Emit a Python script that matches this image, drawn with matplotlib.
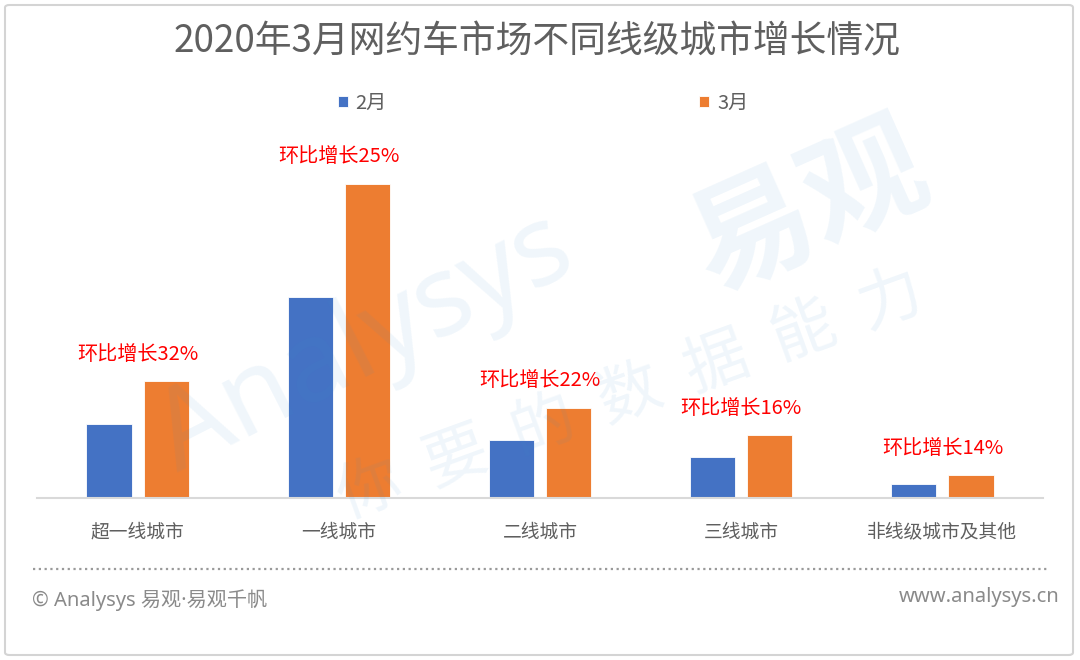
import numpy as np
import matplotlib
matplotlib.use('Agg')
import matplotlib.pyplot as plt
from matplotlib.patches import FancyBboxPatch
from matplotlib.lines import Line2D

plt.rcParams['font.family'] = ['Noto Sans CJK SC', 'DejaVu Sans']

# data (arbitrary units)
categories = ['超一线城市', '一线城市', '二线城市', '三线城市', '非线级城市及其他']
feb = [74, 201, 58, 41, 14]
mar = [117, 314, 90, 63, 23]
growth_labels = ['环比增长32%', '环比增长25%', '环比增长22%', '环比增长16%', '环比增长14%']
series_names = ['2月', '3月']

BLUE = '#4472C4'
ORANGE = '#ED7D31'
GRAY = '#5f5f5f'
LATIN_CJK = ['Noto Sans', 'Noto Sans CJK SC', 'DejaVu Sans']

W, H = 1080, 660
fig = plt.figure(figsize=(W / 100, H / 100), dpi=100)

# light frame round the whole card
frame = FancyBboxPatch((5 / W, 5 / H), 1068 / W, 650 / H,
                       boxstyle='round,pad=0,rounding_size=0.004',
                       transform=fig.transFigure, facecolor='white',
                       edgecolor='#d4d4d4', linewidth=1.5, zorder=0)
fig.add_artist(frame)

ax = fig.add_axes([37 / W, 1 - 498 / H, 1006 / W, 368 / H])
ax.set_facecolor('none')

x = np.arange(len(categories))
bw = 0.224
off = 0.142
b1 = ax.bar(x - off, feb, bw, color=BLUE, edgecolor='white', linewidth=0.6, label=series_names[0], zorder=2)
b2 = ax.bar(x + off, mar, bw, color=ORANGE, edgecolor='white', linewidth=0.6, label=series_names[1], zorder=2)

for xi, v, txt in zip(x, mar, growth_labels):
    ax.text(xi, v + 27, txt, ha='center', va='center', color='#FF0000', fontsize=14.5, zorder=4)

ax.set_xlim(-0.5, len(categories) - 0.5)
ax.set_ylim(0, 368)
ax.set_xticks(x)
ax.set_xticklabels(categories, fontsize=13.5, color=GRAY)
ax.tick_params(axis='x', length=0, pad=17)
ax.set_yticks([])
for s in ['left', 'right', 'top']:
    ax.spines[s].set_visible(False)
ax.spines['bottom'].set_color('#d9d9d9')
ax.spines['bottom'].set_linewidth(1.5)

# watermark
fig.text(365 / W, 1 - 345 / H, 'Analysys', fontsize=80, color='#3d8fd1', alpha=0.08,
         rotation=27, ha='center', va='center', family=LATIN_CJK, zorder=5)
fig.text(810 / W, 1 - 210 / H, '易观', fontsize=88, color='#3d8fd1', alpha=0.08,
         rotation=24, ha='center', va='center', fontweight='bold', zorder=5)
fig.text(630 / W, 1 - 395 / H, '你  要  的  数  据  能  力', fontsize=46, color='#3d8fd1', alpha=0.08,
         rotation=20, ha='center', va='center', fontweight='light', zorder=5)

fig.text(537 / W, 1 - 42 / H, '2020年3月网约车市场不同线级城市增长情况', ha='center', va='center',
         fontsize=26.5, color=GRAY)

fig.legend(handles=[b1, b2], loc='center', bbox_to_anchor=(543 / W, 1 - 103 / H), ncol=2,
           frameon=False, fontsize=14.5, handlelength=0.5, handleheight=0.5,
           handletextpad=0.4, columnspacing=15.5, labelcolor=GRAY)

fig.add_artist(Line2D([33 / W, 1049 / W], [1 - 569 / H, 1 - 569 / H], transform=fig.transFigure,
                      color='#9a9a9a', linewidth=1.6, linestyle=(0, (1, 1.6))))

fig.text(32 / W, 1 - 600 / H, '© Analysys 易观·易观千帆', ha='left', va='center',
         fontsize=14.5, color='#8a8a8a', family=LATIN_CJK)
fig.text(1060 / W, 1 - 597 / H, 'www.analysys.cn', ha='right', va='center',
         fontsize=14.5, color='#8a8a8a', family=LATIN_CJK)

fig.savefig('out.png', dpi=100, facecolor='white')
